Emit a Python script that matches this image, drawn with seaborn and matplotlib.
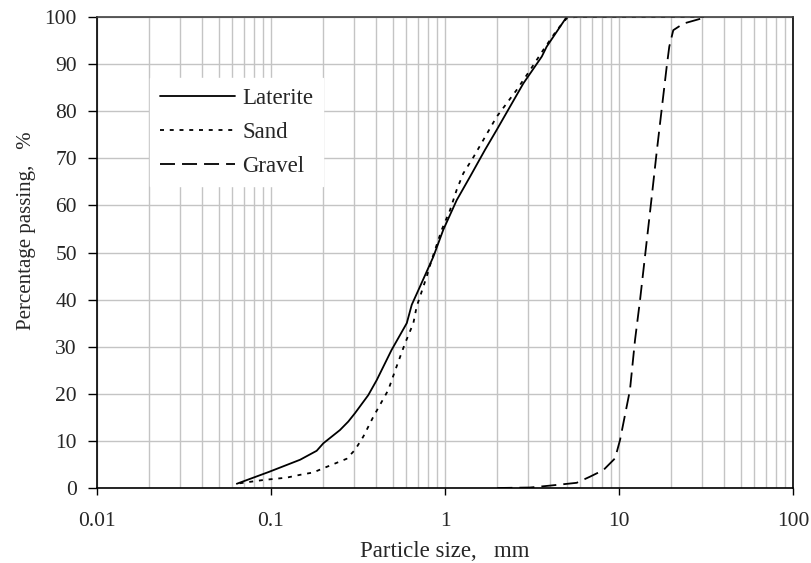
import numpy as np
import pandas as pd
import matplotlib
matplotlib.use("Agg")
import matplotlib.pyplot as plt
import seaborn as sns
from matplotlib.ticker import LogLocator, FixedLocator, NullFormatter, FixedFormatter

# ---- data ----
laterite_size = [0.0636, 0.097, 0.147, 0.183, 0.200, 0.249, 0.278, 0.304, 0.362, 0.405,
                 0.493, 0.603, 0.644, 0.703, 0.857, 0.977, 1.167, 1.393, 1.698, 1.98,
                 2.82, 3.60, 3.84, 5.0]
laterite_pass = [0.9, 3.4, 6.0, 7.9, 9.5, 12.3, 14.1, 15.9, 19.7, 22.9,
                 29.3, 35.0, 38.9, 42.0, 49.1, 54.8, 61.1, 66.1, 71.8, 76.0,
                 85.9, 91.6, 93.7, 100.0]

sand_size = [0.066, 0.0904, 0.123, 0.147, 0.175, 0.200, 0.272, 0.304, 0.339, 0.387,
             0.472, 0.527, 0.589, 0.658, 0.687, 0.718, 0.785, 0.838, 0.957, 1.069,
             1.167, 1.274, 1.46, 1.98, 2.58, 3.08, 3.67, 4.39, 5.0, 5.6, 31.5]
sand_pass = [1.0, 1.7, 2.2, 2.8, 3.3, 4.2, 6.2, 8.1, 10.9, 15.1,
             20.8, 25.8, 30.7, 35.0, 38.5, 40.6, 44.9, 48.4, 54.8, 59.0,
             63.3, 66.8, 70.3, 78.8, 84.5, 88.7, 93.0, 97.2, 99.7, 100.0, 100.0]

gravel_size = [2.0, 3.08, 4.0, 5.71, 6.81, 8.13, 9.49, 10.14, 11.07, 11.56,
               12.36, 13.21, 15.42, 16.44, 17.58, 18.79, 19.45, 20.51, 23.44, 31.9]
gravel_pass = [0.0, 0.1, 0.5, 1.1, 2.4, 3.8, 6.3, 10.2, 17.3, 20.8,
               31.4, 39.9, 61.8, 71.1, 80.3, 89.4, 93.7, 97.2, 98.6, 100.0]

x_ticks = [0.01, 0.1, 1, 10, 100]
x_tick_labels = ["0.01", "0.1", "1", "10", "100"]
y_ticks = list(range(0, 101, 10))

series = {
    "Laterite": (laterite_size, laterite_pass),
    "Sand": (sand_size, sand_pass),
    "Gravel": (gravel_size, gravel_pass),
}

# ---- figure ----
sns.set_style("white")
plt.rcParams["font.family"] = ["Liberation Serif", "DejaVu Serif"]

fig = plt.figure(figsize=(8.11, 5.63), dpi=100)
ax = fig.add_axes([97/811, 1 - 488/563, (793-97)/811, (488-17)/563])

lw = 1.3
styles = {
    "Laterite": dict(linestyle="-"),
    "Sand": dict(linestyle=(0, (2.2, 3.2))),
    "Gravel": dict(linestyle=(0, (8.3, 3.9))),
}

for name, (xs, ys) in series.items():
    df = pd.DataFrame({"size": xs, "pass": ys})
    sns.lineplot(data=df, x="size", y="pass", ax=ax, color="black", lw=lw,
                 sort=False, estimator=None, label=name, **styles[name])

ax.set_xscale("log")
ax.set_xlim(0.01, 100)
ax.set_ylim(0, 100)

ax.xaxis.set_major_locator(FixedLocator(x_ticks))
ax.xaxis.set_major_formatter(FixedFormatter(x_tick_labels))
ax.xaxis.set_minor_locator(LogLocator(base=10, subs=np.arange(2, 10), numticks=50))
ax.xaxis.set_minor_formatter(NullFormatter())
ax.set_yticks(y_ticks)

ax.grid(True, which="both", axis="x", color="#c4c4c4", lw=1.0)
ax.grid(True, which="major", axis="y", color="#c4c4c4", lw=1.0)
ax.set_axisbelow(True)

ax.tick_params(axis="x", which="major", direction="out", length=5, width=1.0,
               labelsize=15.5, pad=12, bottom=True, color="black")
ax.tick_params(axis="x", which="minor", length=0)
ax.tick_params(axis="y", which="major", direction="out", length=6.5, width=1.0,
               labelsize=15.5, pad=8, left=True, color="black")

for side in ["left", "bottom"]:
    ax.spines[side].set_color("black")
    ax.spines[side].set_linewidth(1.2)
ax.spines["top"].set_color("#404040")
ax.spines["top"].set_linewidth(1.2)
ax.spines["right"].set_color("black")
ax.spines["right"].set_linewidth(1.2)

ax.set_xlabel("Particle size,   mm", fontsize=16.5)
ax.xaxis.label.set_va("center")
ax.xaxis.set_label_coords(0.5, -0.134)

ax.set_ylabel("Percentage passing,   %", fontsize=15)
ax.yaxis.label.set_va("center")
ax.yaxis.label.set_ha("center")
ax.yaxis.set_label_coords(-0.1006, 0.5456)

leg = ax.legend(loc="upper left", bbox_to_anchor=(0.076, 0.87), fontsize=16.5,
                handlelength=3.3, handletextpad=0.3, labelspacing=0.56,
                frameon=True, fancybox=False, borderpad=0.42, borderaxespad=0)
leg.get_frame().set_facecolor("white")
leg.get_frame().set_edgecolor("white")
leg.get_frame().set_alpha(1.0)

fig.savefig("out.png", dpi=100)
